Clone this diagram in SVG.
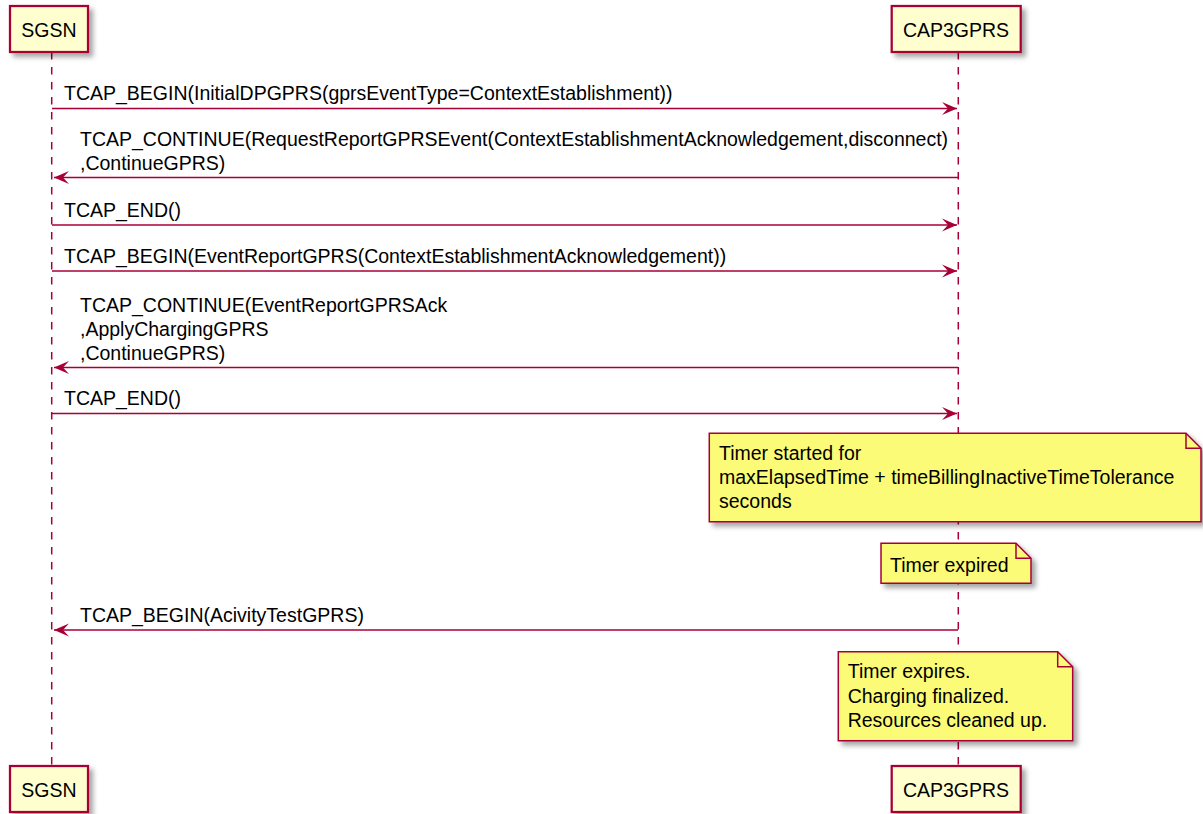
<svg xmlns="http://www.w3.org/2000/svg" width="1203" height="814" viewBox="0 0 1203 814">
<defs>
<style>
.t{font-family:"Liberation Sans",Arial,sans-serif;font-size:19.5px;fill:#000}
.box{fill:#FEFECE;stroke:#A80036;stroke-width:2.25}
.life{stroke:#A80036;stroke-width:1.5;stroke-dasharray:7.5,7.5;fill:none}
.msg{stroke:#A80036;stroke-width:1.5;fill:none;marker-end:url(#ah)}
.note{fill:#FBFB77;stroke:#A80036;stroke-width:1.5}
.fold{fill:none;stroke:#A80036;stroke-width:1.5}
</style>
<filter id="sh" x="-10%" y="-10%" width="130%" height="150%">
<feDropShadow dx="4" dy="4" stdDeviation="2.5" flood-color="#000" flood-opacity="0.35"/>
</filter>
<marker id="ah" viewBox="-16 -7 17 14" markerWidth="17" markerHeight="14" refX="0" refY="0" orient="auto" markerUnits="userSpaceOnUse">
<path d="M0,0 L-15,-6.5 L-9,0 L-15,6.5 Z" fill="#A80036"/>
</marker>
</defs>
<rect width="1203" height="814" fill="#fff"/>

<g id="lifelines">
<line class="life" x1="51.7" y1="52" x2="51.7" y2="766"/>
<line class="life" x1="958.3" y1="52" x2="958.3" y2="766"/>
</g>

<g id="SGSN">
<rect class="box" filter="url(#sh)" x="10" y="6" width="78" height="46"/>
<text class="t" x="49" y="36.5" text-anchor="middle">SGSN</text>
<rect class="box" filter="url(#sh)" x="10" y="766" width="78" height="46"/>
<text class="t" x="49" y="796.5" text-anchor="middle">SGSN</text>
</g>

<g id="CAP3GPRS">
<rect class="box" filter="url(#sh)" x="891.7" y="6" width="129" height="46"/>
<text class="t" x="956" y="36.5" text-anchor="middle">CAP3GPRS</text>
<rect class="box" filter="url(#sh)" x="891.7" y="766" width="129" height="46"/>
<text class="t" x="956" y="796.5" text-anchor="middle">CAP3GPRS</text>
</g>

<g id="connectors">
<line class="msg" x1="52" y1="108.5" x2="957" y2="108.5"/>
<text class="t" x="64" y="100">TCAP_BEGIN(InitialDPGPRS(gprsEventType=ContextEstablishment))</text>

<line class="msg" x1="958" y1="177.5" x2="54" y2="177.5"/>
<text class="t" x="80" y="145.5">TCAP_CONTINUE(RequestReportGPRSEvent(ContextEstablishmentAcknowledgement,disconnect)</text>
<text class="t" x="80" y="169.5">,ContinueGPRS)</text>

<line class="msg" x1="52" y1="225" x2="957" y2="225"/>
<text class="t" x="64" y="217">TCAP_END()</text>

<line class="msg" x1="52" y1="271" x2="957" y2="271"/>
<text class="t" x="64" y="263">TCAP_BEGIN(EventReportGPRS(ContextEstablishmentAcknowledgement))</text>

<line class="msg" x1="958" y1="367.5" x2="54" y2="367.5"/>
<text class="t" x="80" y="311.5">TCAP_CONTINUE(EventReportGPRSAck</text>
<text class="t" x="80" y="335.5">,ApplyChargingGPRS</text>
<text class="t" x="80" y="359.5">,ContinueGPRS)</text>

<line class="msg" x1="52" y1="413.5" x2="957" y2="413.5"/>
<text class="t" x="64" y="405">TCAP_END()</text>

<line class="msg" x1="958" y1="630" x2="54" y2="630"/>
<text class="t" x="80" y="622">TCAP_BEGIN(AcivityTestGPRS)</text>
</g>

<g id="note1">
<path class="note" filter="url(#sh)" d="M709.3,433.3 L709.3,521.7 L1201,521.7 L1201,448.3 L1186,433.3 Z"/>
<path class="fold" d="M1186,433.3 L1186,448.3 L1201,448.3"/>
<text class="t" x="719" y="460">Timer started for</text>
<text class="t" x="719" y="484">maxElapsedTime + timeBillingInactiveTimeTolerance</text>
<text class="t" x="719" y="508">seconds</text>
</g>

<g id="note2">
<path class="note" filter="url(#sh)" d="M881,543.3 L881,583.3 L1031,583.3 L1031,558.3 L1016,543.3 Z"/>
<path class="fold" d="M1016,543.3 L1016,558.3 L1031,558.3"/>
<text class="t" x="890" y="571.5">Timer expired</text>
</g>

<g id="note3">
<path class="note" filter="url(#sh)" d="M838.3,651.7 L838.3,740.7 L1072.7,740.7 L1072.7,666.7 L1057.7,651.7 Z"/>
<path class="fold" d="M1057.7,651.7 L1057.7,666.7 L1072.7,666.7"/>
<text class="t" x="847.7" y="678">Timer expires.</text>
<text class="t" x="847.7" y="702.5">Charging finalized.</text>
<text class="t" x="847.7" y="727">Resources cleaned up.</text>
</g>
</svg>
